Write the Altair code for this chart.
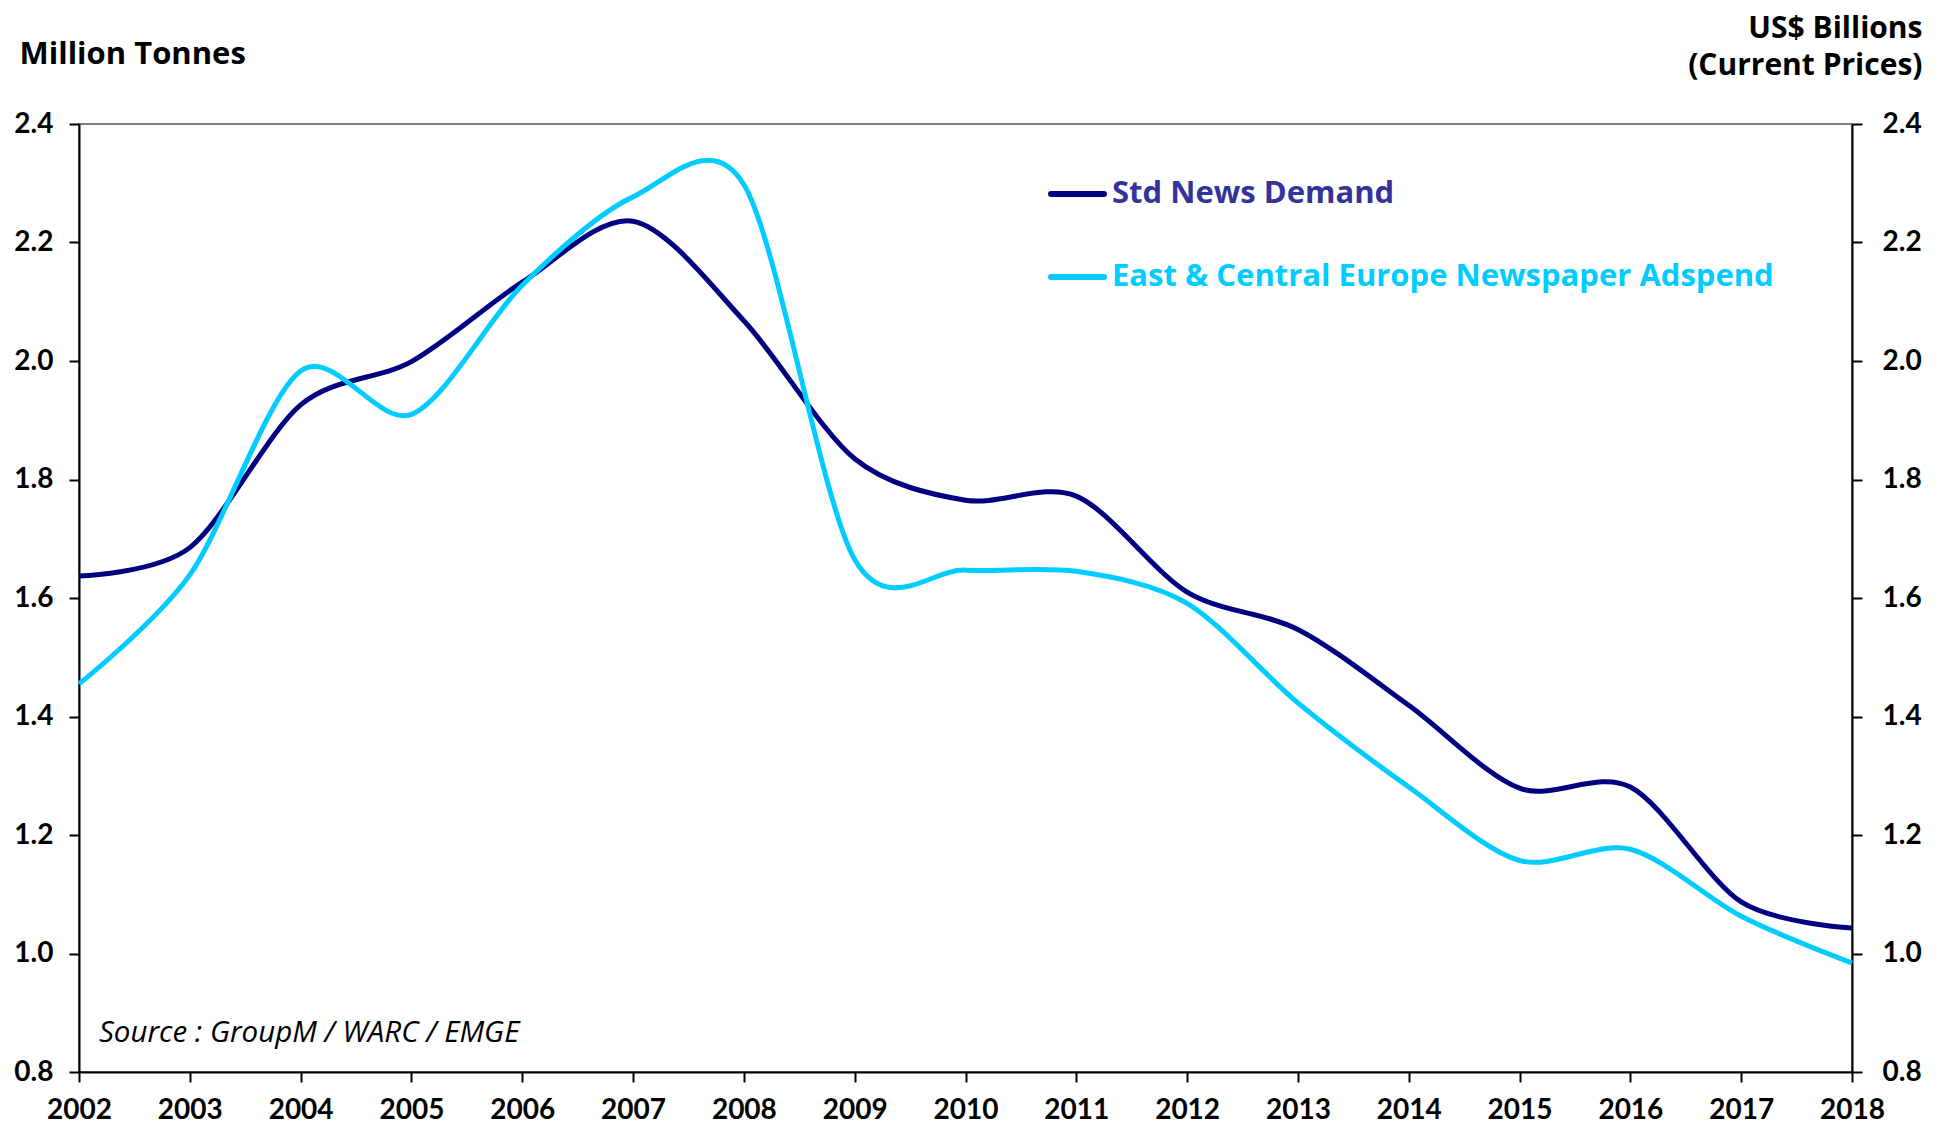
import altair as alt
import pandas as pd

years = list(range(2002, 2019))
series_names = ["Std News Demand", "East & Central Europe Newspaper Adspend"]
news_demand = [1.637, 1.685, 1.926, 1.999, 2.133, 2.236, 2.068, 1.835, 1.765, 1.772,
               1.610, 1.547, 1.419, 1.279, 1.281, 1.087, 1.043]
adspend = [1.455, 1.639, 1.983, 1.910, 2.128, 2.277, 2.298, 1.665, 1.647, 1.645,
           1.591, 1.423, 1.281, 1.157, 1.176, 1.063, 0.984]
y_ticks = [0.8, 1.0, 1.2, 1.4, 1.6, 1.8, 2.0, 2.2, 2.4]
colors = ["#000080", "#00CCFF"]
legend_text_colors = ["#333399", "#00CCFF"]
source_text = "Source : GroupM / WARC / EMGE"

df1 = pd.DataFrame({"year": years, "value": news_demand, "series": series_names[0]})
df2 = pd.DataFrame({"year": years, "value": adspend, "series": series_names[1]})

NUMFONT = "Lato"
TXTFONT = "Open Sans"
W, H = 1773, 948

xenc = alt.X("year:Q", scale=alt.Scale(domain=[2002, 2018], nice=False, zero=False),
             axis=alt.Axis(values=years, format="d", title=None, labelPadding=14,
                           labelFontSize=28, labelFlush=False, labelOverlap=False))

line1 = alt.Chart(df1).mark_line(color=colors[0], strokeWidth=5,
                                 interpolate="cardinal", tension=0.1).encode(
    x=xenc,
    y=alt.Y("value:Q", scale=alt.Scale(domain=[0.8, 2.4], nice=False, zero=False),
            axis=alt.Axis(values=y_ticks, format=".1f", orient="left",
                          title="Million Tonnes", titleAngle=0, titleAlign="left",
                          titleBaseline="middle", titleX=-60, titleY=-70,
                          labelPadding=16)),
)

line2 = alt.Chart(df2).mark_line(color=colors[1], strokeWidth=5,
                                 interpolate="cardinal", tension=0.1).encode(
    x=xenc,
    y=alt.Y("value:Q", scale=alt.Scale(domain=[0.8, 2.4], nice=False, zero=False),
            axis=alt.Axis(values=y_ticks, format=".1f", orient="right",
                          title=["US$ Billions", "(Current Prices)"], titleAngle=0,
                          titleAlign="right", titleBaseline="alphabetic",
                          titleX=70, titleY=-87, titleLineHeight=37,
                          titleFontSize=30, labelPadding=20)),
)

one = pd.DataFrame({"k": [0]})
legend_layers = []
for i, name in enumerate(series_names):
    ypix = 70 + i * 83
    legend_layers.append(
        alt.Chart(one).mark_rule(color=colors[i], strokeWidth=6, strokeCap="round").encode(
            x=alt.value(972), x2=alt.value(1025), y=alt.value(ypix)))
    legend_layers.append(
        alt.Chart(one).mark_text(align="left", baseline="middle", font=TXTFONT,
                                 fontWeight="bold", fontSize=31,
                                 color=legend_text_colors[i]).encode(
            x=alt.value(1033), y=alt.value(ypix), text=alt.value(name)))

source = alt.Chart(one).mark_text(align="left", baseline="middle", font=TXTFONT,
                                  fontStyle="italic", fontSize=29.5, color="#000000").encode(
    x=alt.value(20), y=alt.value(909), text=alt.value(source_text))

chart = alt.layer(line1, line2, *legend_layers, source).resolve_scale(
    y="independent"
).properties(
    width=W, height=H,
    padding={"left": 71, "top": 116, "right": 84, "bottom": 54},
    autosize=alt.AutoSizeParams(type="none"),
).configure_view(
    stroke="#808080", strokeWidth=2
).configure_axis(
    grid=False, domainColor="#000000", domainWidth=2, tickColor="#000000",
    tickWidth=2, tickSize=10, labelFont=NUMFONT, labelFontWeight="bold",
    labelFontSize=28, labelColor="#000000", titleFont=TXTFONT, titleFontWeight="bold",
    titleFontSize=31, titleColor="#000000"
)

chart.save("out.html", embed_options={"renderer": "svg", "actions": False})
